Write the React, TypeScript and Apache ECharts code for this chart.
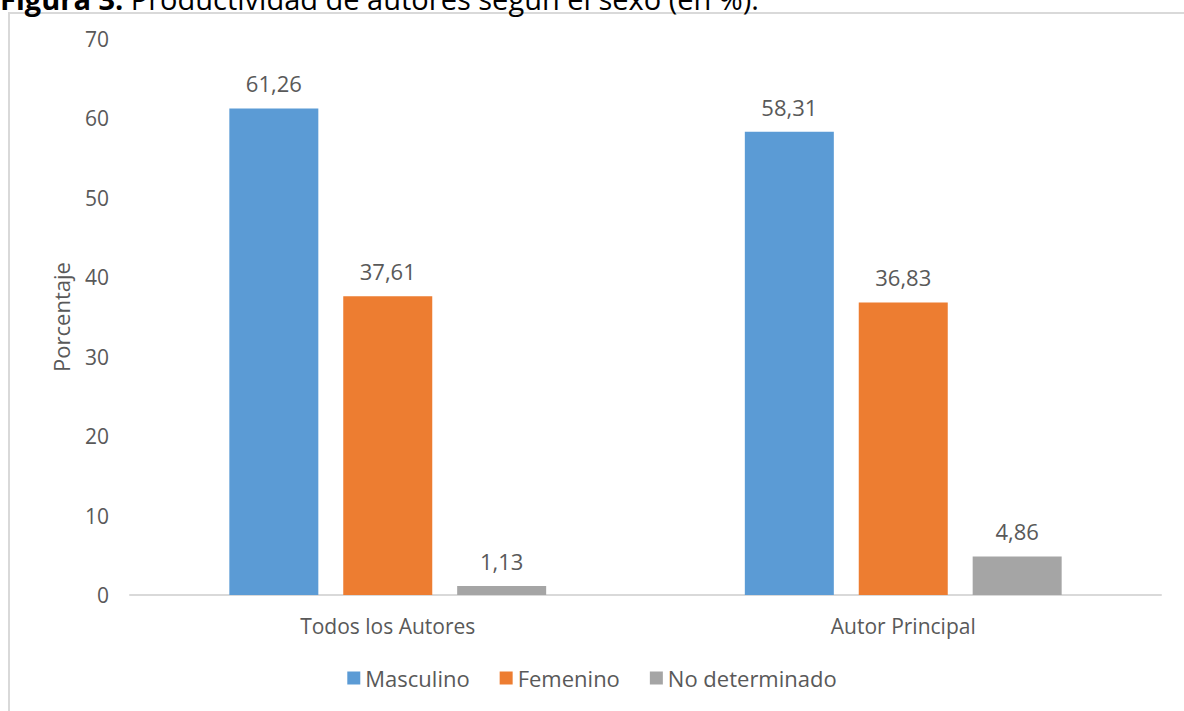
import React, { useEffect, useRef } from "react";
import * as echarts from "echarts";

const categories = ["Todos los Autores", "Autor Principal"];
const seriesNames = ["Masculino", "Femenino", "No determinado"];
const masculino = [61.26, 58.31];
const femenino = [37.61, 36.83];
const noDeterminado = [1.13, 4.86];
const colors = ["#5B9BD5", "#ED7D31", "#A5A5A5"];
const yTicks = [0, 10, 20, 30, 40, 50, 60, 70];

const FONT = "'Open Sans', sans-serif";
const TXT = "#595959";

export default function App() {
  const ref = useRef<HTMLDivElement>(null);
  useEffect(() => {
    if (!ref.current) return;
    const chart = echarts.init(ref.current, null, { renderer: "svg" });
    const data = [masculino, femenino, noDeterminado];
    chart.setOption({
      animation: false,
      textStyle: { fontFamily: FONT },
      graphic: [
        {
          type: "rect",
          shape: { x: 9, y: 13, width: 1300, height: 800 },
          style: { fill: "none", stroke: "#D9D9D9", lineWidth: 2 },
          silent: true,
        },
        {
          type: "text",
          x: 0,
          y: 13,
          style: {
            text: "{b|Figura 3.} Productividad de autores según el sexo (en %).",
            rich: {
              b: { fontWeight: "bold", fontSize: 29, fontFamily: FONT, fill: "#000" },
            },
            fontSize: 29,
            fontFamily: FONT,
            fill: "#000",
            verticalAlign: "bottom",
          },
        },
      ],
      grid: { left: 130, right: 23, top: 39, bottom: 116 },
      legend: {
        data: seriesNames,
        bottom: 17,
        left: "center",
        itemWidth: 13,
        itemHeight: 13,
        itemGap: 30,
        icon: "rect",
        textStyle: { color: TXT, fontSize: 22, fontFamily: FONT },
      },
      xAxis: {
        type: "category",
        data: categories,
        axisLine: { lineStyle: { color: "#D9D9D9", width: 2 } },
        axisTick: { show: false },
        axisLabel: { color: TXT, fontSize: 21, margin: 20, fontFamily: FONT },
      },
      yAxis: {
        type: "value",
        min: 0,
        max: 70,
        interval: 10,
        name: "Porcentaje",
        nameLocation: "middle",
        nameGap: 58,
        nameMoveOverlap: false,
        nameTextStyle: { color: TXT, fontSize: 22, fontFamily: FONT },
        axisLine: { show: false },
        axisTick: { show: false },
        splitLine: { show: false },
        axisLabel: {
          color: TXT,
          fontSize: 21,
          margin: 21,
          fontFamily: FONT,
          formatter: (v: number) => (yTicks.includes(v) ? String(v) : ""),
        },
      },
      series: seriesNames.map((name, i) => ({
        name,
        type: "bar",
        data: data[i],
        barWidth: 89,
        barGap: "28%",
        itemStyle: { color: colors[i] },
        label: {
          show: true,
          position: "top",
          distance: 14,
          color: TXT,
          fontSize: 22,
          fontFamily: FONT,
          formatter: (p: any) => p.value.toFixed(2).replace(".", ","),
        },
      })),
    });
    return () => chart.dispose();
  }, []);
  return (
    <div
      ref={ref}
      style={{ position: "fixed", left: 0, top: 0, width: 1184, height: 711, background: "#fff" }}
    />
  );
}
